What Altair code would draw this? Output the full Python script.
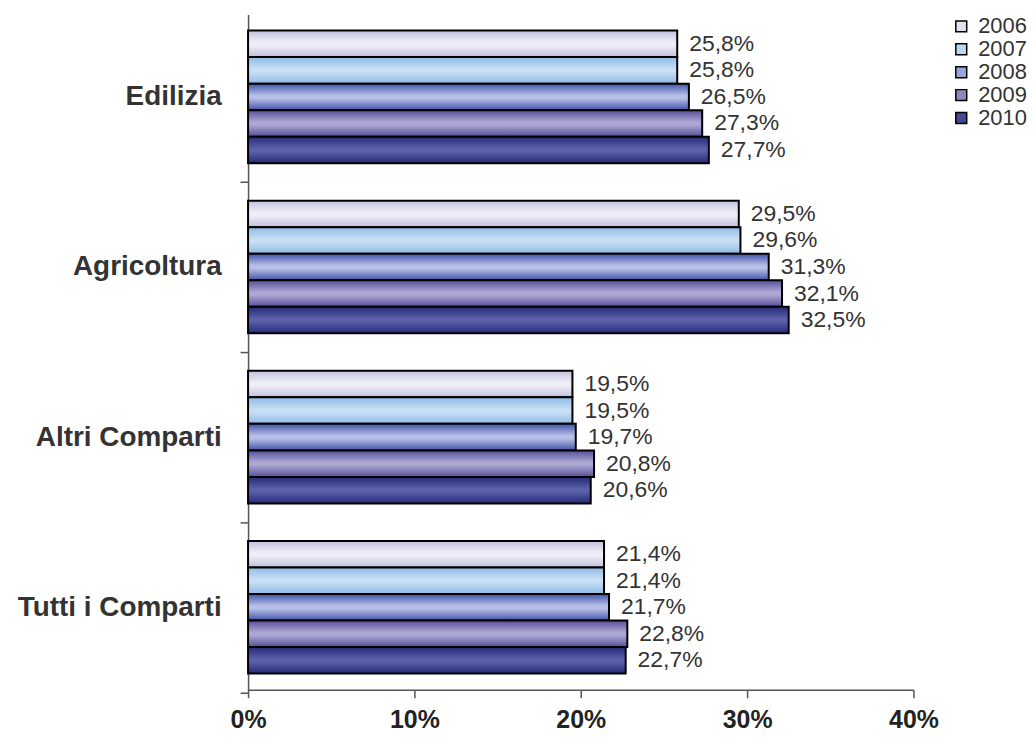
import altair as alt
import pandas as pd

categories = ["Edilizia", "Agricoltura", "Altri Comparti", "Tutti i Comparti\u00a0"]
years = ["2006", "2007", "2008", "2009", "2010"]
v2006 = [25.8, 29.5, 19.5, 21.4]
v2007 = [25.8, 29.6, 19.5, 21.4]
v2008 = [26.5, 31.3, 19.7, 21.7]
v2009 = [27.3, 32.1, 20.8, 22.8]
v2010 = [27.7, 32.5, 20.6, 22.7]
series = [v2006, v2007, v2008, v2009, v2010]

# (edge, middle) gradient colours per year, and solid legend colours
grad = {
    "2006": ("#c2c0dc", "#efeef7"),
    "2007": ("#8fbbe6", "#c8dff4"),
    "2008": ("#4353a8", "#b6c0e7"),
    "2009": ("#564e98", "#aca8d3"),
    "2010": ("#252a78", "#5a60aa"),
}
legend_colors = ["#e4e3f1", "#bcd8f0", "#98a6da", "#8e88c0", "#434894"]

rows = []
for y, vals in zip(years, series):
    for c, v in zip(categories, vals):
        rows.append({"cat": c, "year": y, "val": v,
                     "label": f"{v:.1f}".replace(".", ",") + "%"})
df = pd.DataFrame(rows)

FONT = "Liberation Sans"
H = 678
STEP = H / (4 - 0.22 + 2 * 0.095)

yenc = alt.Y("cat:N", sort=categories,
             scale=alt.Scale(paddingInner=0.22, paddingOuter=0.095),
             axis=alt.Axis(title=None, tickSize=8,
                           tickOffset=STEP / 2, labelOffset=-STEP / 2,
                           labelFontSize=28, labelFontWeight="bold",
                           labelColor="#333333", labelPadding=19,
                           labelFont=FONT, labelLimit=400,
                           minExtent=236, maxExtent=236,
                           domainColor="#555555", tickColor="#555555",
                           domainWidth=1.5, tickWidth=1.5))
xenc = alt.X("val:Q", scale=alt.Scale(domain=[0, 40], nice=False),
             axis=alt.Axis(title=None, values=[0, 10, 20, 30, 40], grid=False,
                           labelExpr="datum.value + '%'", tickSize=8,
                           labelFlush=False,
                           labelFontSize=25, labelFontWeight="bold",
                           labelColor="#222222", labelFont=FONT,
                           labelPadding=10,
                           domainColor="#555555", tickColor="#555555",
                           domainWidth=1.5, tickWidth=1.5))
yoff = alt.YOffset("year:N", scale=alt.Scale(domain=years, paddingInner=0, paddingOuter=0))

layers = []
for y in years:
    edge, mid = grad[y]
    g = alt.Gradient(gradient="linear", x1=0, y1=0, x2=0, y2=1,
                     stops=[alt.GradientStop(offset=0, color=edge),
                            alt.GradientStop(offset=0.45, color=mid),
                            alt.GradientStop(offset=0.55, color=mid),
                            alt.GradientStop(offset=1, color=edge)])
    layers.append(
        alt.Chart(df).transform_filter(alt.datum.year == y)
        .mark_bar(fill=g, stroke="black", strokeWidth=2)
        .encode(x=xenc, y=yenc, yOffset=yoff)
    )

labels = alt.Chart(df).mark_text(align="left", baseline="middle", dx=12,
                                 fontSize=23, font=FONT, color="#333333").encode(
    x=xenc, y=yenc, yOffset=yoff, text="label:N")

legend_layer = alt.Chart(df).mark_square(opacity=0, size=1).encode(
    x=xenc, y=yenc, yOffset=yoff,
    color=alt.Color("year:N", scale=alt.Scale(domain=years, range=legend_colors),
                    legend=alt.Legend(title=None, orient="none", legendX=705, legendY=1,
                                      symbolType="square", symbolSize=120,
                                      symbolOpacity=1, symbolStrokeColor="black",
                                      symbolStrokeWidth=1.5, labelFontSize=22,
                                      labelFont=FONT, labelColor="#333333",
                                      rowPadding=1, labelOffset=6, padding=0)))

chart = alt.layer(*layers, labels, legend_layer).properties(
    width=668, height=H,
    padding={"left": 5, "top": 5, "right": 0, "bottom": 0},
).configure_view(stroke=None)

chart.save("out.html", embed_options={"renderer": "svg", "actions": False})
